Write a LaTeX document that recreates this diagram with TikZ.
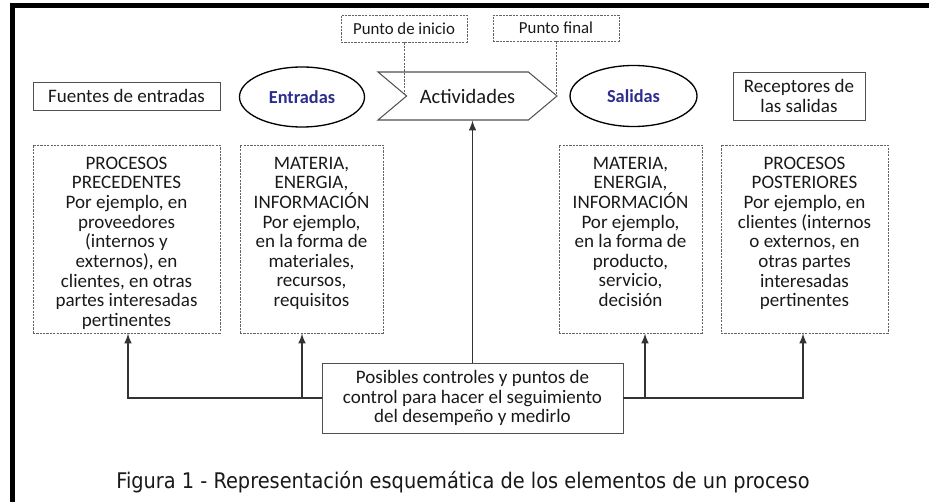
\documentclass[tikz,border=0pt]{standalone}
\usepackage{fontspec}
\setmainfont{Carlito}
\newfontfamily\capfont{DejaVu Sans Condensed}
\usetikzlibrary{shapes.geometric,shapes.symbols}
\definecolor{outline}{RGB}{80,80,80}
\definecolor{dashline}{RGB}{100,100,100}
\definecolor{flow}{RGB}{45,45,140}
\definecolor{ink}{RGB}{25,25,25}
\newlength{\pxu}
\setlength{\pxu}{0.24mm}
\newcommand{\boxtext}{\fontsize{13}{13.4}\selectfont}
\tikzstyle{solidbox}=[draw=outline, line width=.6pt, text=ink, font=\boxtext, inner sep=0pt, align=center]
\tikzstyle{dashbox}=[draw=dashline, dash pattern=on 1.5pt off .8pt, line width=.6pt, text=ink, inner sep=0pt]
\tikzstyle{oval}=[ellipse, draw=black, line width=.9pt, text=flow, font=\fontsize{12.5}{14}\selectfont\bfseries]
\tikzstyle{pointer}=[draw=dashline, dash pattern=on 1.5pt off .8pt, line width=.6pt]
\tikzstyle{bus}=[line width=1.3pt, color=black!80]
\tikzstyle{link}=[bus, -latex]

\begin{document}
\begin{tikzpicture}[x=0.24mm, y=-0.24mm]
  \useasboundingbox (0,0) rectangle (929,502);
  %% Frame
  \draw[line width=1.1mm] (12.5,502) -- (12.5,5.5) -- (929,5.5);

  %% Top labels
  \draw (404,28.5) node[dashbox, minimum width=126*\pxu, minimum height=27*\pxu, font=\fontsize{11.5}{13}\selectfont] (inicio) {Punto de inicio};
  \draw (556,28) node[dashbox, minimum width=126*\pxu, minimum height=26*\pxu, font=\fontsize{11.5}{13}\selectfont] (final) {Punto final};

  %% Middle row
  \draw (126.5,96) node[solidbox, minimum width=187*\pxu, minimum height=28*\pxu] (fuentes) {Fuentes de entradas};
  \draw (302,97) node[oval, minimum width=125*\pxu, minimum height=60*\pxu] (entradas) {Entradas};
  \draw (467.5,96) node[signal, signal to=east, signal from=west, signal pointer angle=80, draw=outline, line width=.7pt, minimum width=179*\pxu, minimum height=48*\pxu, inner sep=0pt, font=\fontsize{14}{16}\selectfont, text=ink] (act) {Actividades};
  \draw (633.5,96) node[oval, minimum width=127*\pxu, minimum height=61*\pxu] (salidas) {Salidas};
  \draw (799,96) node[solidbox, minimum width=132*\pxu, minimum height=48*\pxu] (receptores) {Receptores de\\las salidas};

  \draw[pointer] (inicio.south) -- (inicio.south |- act.center);
  \draw[pointer] (final.south) -- (final.south |- act.center);

  %% Lower boxes
  \draw (126.5,239) node[dashbox, minimum width=187*\pxu, minimum height=188*\pxu] (prec) {\parbox[c][164\pxu][t]{180\pxu}{\centering\boxtext PROCESOS\\PRECEDENTES\\Por ejemplo, en\\proveedores\\(internos y\\externos), en\\clientes, en otras\\partes interesadas\\pertinentes}};
  \draw (311.5,239) node[dashbox, minimum width=143*\pxu, minimum height=188*\pxu] (ent) {\parbox[c][164\pxu][t]{138\pxu}{\centering\boxtext MATERIA,\\ENERGIA,\\INFORMACIÓN\\Por ejemplo,\\en la forma de\\materiales,\\recursos,\\requisitos}};
  \draw (630.5,239) node[dashbox, minimum width=143*\pxu, minimum height=188*\pxu] (sal) {\parbox[c][164\pxu][t]{138\pxu}{\centering\boxtext MATERIA,\\ENERGIA,\\INFORMACIÓN\\Por ejemplo,\\en la forma de\\producto,\\servicio,\\decisión}};
  \draw (804.5,239) node[dashbox, minimum width=167*\pxu, minimum height=188*\pxu] (post) {\parbox[c][164\pxu][t]{160\pxu}{\centering\boxtext PROCESOS\\POSTERIORES\\Por ejemplo, en\\clientes (internos\\o externos, en\\otras partes\\interesadas\\pertinentes}};

  %% Controls
  \draw (472.5,398) node[solidbox, minimum width=301*\pxu, minimum height=70*\pxu] (control) {Posibles controles y puntos de\\control para hacer el seguimiento\\del desempeño y medirlo};
  \coordinate (j1) at (128,398);
  \coordinate (j2) at (302,398);
  \coordinate (j3) at (645,398);
  \coordinate (j4) at (803,398);

  \draw[link] (control.north) -- (control.north |- act.south);
  \draw[link] (control.west) -- (j1) -- (j1 |- prec.south);
  \draw[link] (j2) -- (j2 |- ent.south);
  \draw[link] (control.east) -- (j4) -- (j4 |- post.south);
  \draw[link] (j3) -- (j3 |- sal.south);

  %% Caption
  \draw (463,482) node[font=\capfont\fontsize{14.7}{17}\selectfont, text=ink] (caption) {Figura 1 - Representación esquemática de los elementos de un proceso};
\end{tikzpicture}
\end{document}
